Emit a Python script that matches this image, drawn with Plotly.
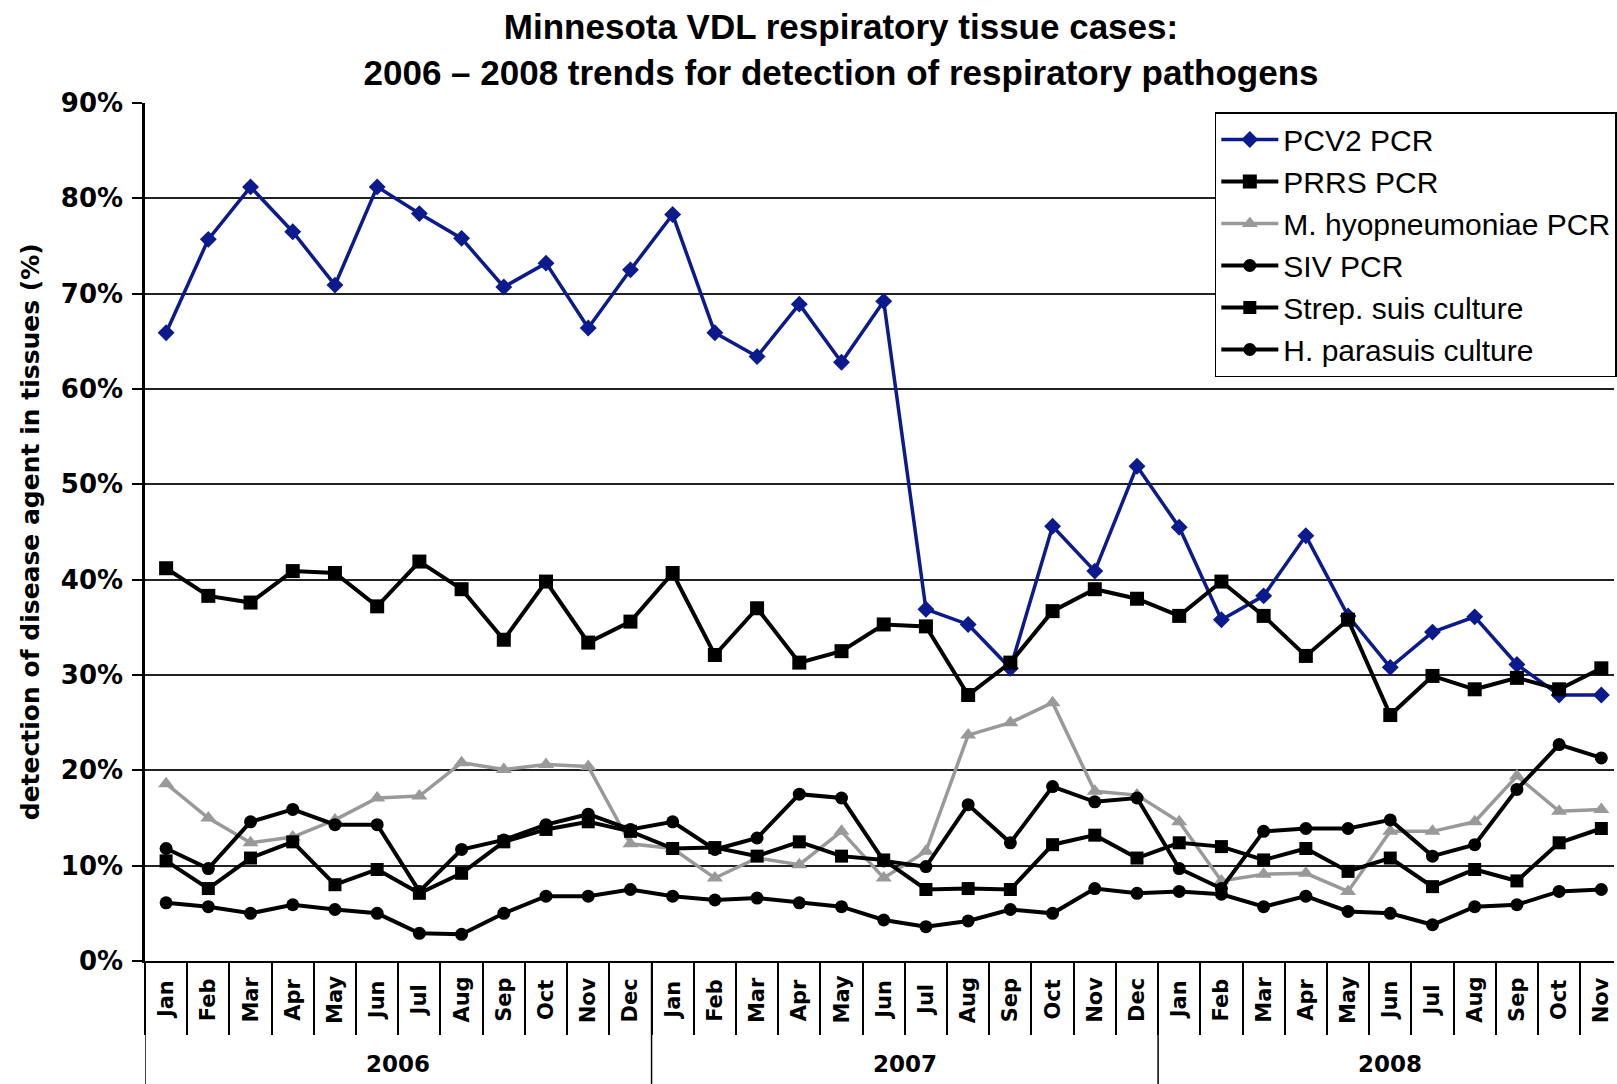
import plotly.graph_objects as go

# ---- data ----
months = ['Jan', 'Feb', 'Mar', 'Apr', 'May', 'Jun', 'Jul', 'Aug', 'Sep', 'Oct', 'Nov', 'Dec',
          'Jan', 'Feb', 'Mar', 'Apr', 'May', 'Jun', 'Jul', 'Aug', 'Sep', 'Oct', 'Nov', 'Dec',
          'Jan', 'Feb', 'Mar', 'Apr', 'May', 'Jun', 'Jul', 'Aug', 'Sep', 'Oct', 'Nov']
years = ['2006', '2007', '2008']
year_counts = [12, 12, 11]

pcv2 = [65.9, 75.7, 81.2, 76.5, 70.9, 81.2, 78.4, 75.8, 70.7, 73.2, 66.4, 72.5,
        78.3, 65.9, 63.4, 68.9, 62.8, 69.2, 36.9, 35.3, 30.7, 45.6, 40.9, 51.9,
        45.5, 35.8, 38.3, 44.6, 36.2, 30.8, 34.5, 36.1, 31.1, 27.9, 27.9]
prrs = [41.2, 38.3, 37.6, 40.9, 40.7, 37.2, 41.9, 39.0, 33.7, 39.8, 33.4, 35.6,
        40.7, 32.1, 37.0, 31.3, 32.5, 35.3, 35.1, 27.9, 31.3, 36.7, 39.0, 38.0,
        36.2, 39.8, 36.2, 32.0, 35.8, 25.8, 29.9, 28.5, 29.7, 28.5, 30.7]
mhyo = [18.6, 15.0, 12.4, 13.0, 14.8, 17.1, 17.3, 20.8, 20.1, 20.6, 20.4, 12.3,
        11.8, 8.7, 10.8, 10.1, 13.6, 8.7, 11.5, 23.7, 25.0, 27.1, 17.8, 17.4,
        14.6, 8.4, 9.1, 9.2, 7.3, 13.6, 13.6, 14.6, 19.4, 15.7, 15.9]
siv = [11.8, 9.7, 14.6, 15.9, 14.3, 14.3, 7.3, 11.7, 12.7, 14.3, 15.4, 13.8,
       14.6, 11.7, 12.9, 17.5, 17.1, 10.5, 9.9, 16.4, 12.4, 18.3, 16.7, 17.1,
       9.7, 7.6, 13.6, 13.9, 13.9, 14.8, 11.0, 12.2, 18.0, 22.7, 21.3]
strep = [10.5, 7.6, 10.8, 12.5, 8.0, 9.6, 7.1, 9.2, 12.5, 13.8, 14.6, 13.6,
         11.8, 11.9, 11.0, 12.5, 11.0, 10.6, 7.5, 7.6, 7.5, 12.2, 13.2, 10.8,
         12.4, 12.0, 10.6, 11.8, 9.4, 10.8, 7.8, 9.6, 8.4, 12.4, 13.9]
hpar = [6.1, 5.7, 5.0, 5.9, 5.4, 5.0, 2.9, 2.8, 5.0, 6.8, 6.8, 7.5,
        6.8, 6.4, 6.6, 6.1, 5.7, 4.3, 3.6, 4.2, 5.4, 5.0, 7.6, 7.1,
        7.3, 7.0, 5.7, 6.8, 5.2, 5.0, 3.8, 5.7, 5.9, 7.3, 7.5]

y_ticks = [0, 10, 20, 30, 40, 50, 60, 70, 80, 90]

series = [
    ('PCV2 PCR', pcv2, '#0B1A8C', 'diamond', 13, 3.5),
    ('PRRS PCR', prrs, '#000000', 'square', 14, 4),
    ('M. hyopneumoniae PCR', mhyo, '#999999', 'triangle-up', 14, 3.5),
    ('SIV PCR', siv, '#000000', 'circle', 13, 4),
    ('Strep. suis culture', strep, '#000000', 'square', 13, 4),
    ('H. parasuis culture', hpar, '#000000', 'circle', 13, 4),
]

W, H = 1617, 1084
L, R, T, B = 145, 0, 103, 123
plot_h = H - T - B
plot_w = W - L - R

x = list(range(len(months)))
fig = go.Figure()
for name, vals, color, sym, size, lw in series:
    fig.add_trace(go.Scatter(
        x=x, y=vals, name=name, mode='lines+markers', legendgroup=name,
        line=dict(color=color, width=lw),
        marker=dict(symbol=sym, size=size, color=color, line=dict(width=0)),
    ))

shapes = []
annotations = []

# month labels (centred in the label band, like the original)
month_font = dict(family='DejaVu Sans', size=21, color='black', weight='bold')
for i, m in enumerate(months):
    annotations.append(dict(text=m, xref='x', yref='paper', x=i, y=-(1000 - (H - B)) / plot_h,
                            textangle=-90, xanchor='center', yanchor='middle', showarrow=False,
                            font=month_font))

# year separators and labels
start = 0
bottom_paper = -B / plot_h
for yr, cnt in zip(years, year_counts):
    shapes.append(dict(type='line', xref='x', yref='paper', x0=start - 0.5, x1=start - 0.5,
                       y0=0, y1=bottom_paper, line=dict(color='black', width=1.5)))
    annotations.append(dict(text=yr, xref='x', yref='paper', x=start + (cnt - 1) / 2,
                            y=-(1064 - (H - B)) / plot_h, yanchor='middle', showarrow=False,
                            font=dict(family='DejaVu Sans', size=23, color='black', weight='bold')))
    start += cnt

annotations.append(dict(text='detection of disease agent in tissues (%)', xref='paper', yref='paper',
                        x=(30 - L) / plot_w, y=0.5, textangle=-90, showarrow=False,
                        xanchor='center', yanchor='middle',
                        font=dict(family='DejaVu Sans', size=25, color='black', weight='bold')))

fig.update_layout(
    width=W, height=H,
    margin=dict(l=L, r=R, t=T, b=B),
    paper_bgcolor='white', plot_bgcolor='white',
    title=dict(text='Minnesota VDL respiratory tissue cases:<br>2006 \u2013 2008 trends for detection of respiratory pathogens',
               x=841 / W, xanchor='center', y=1 - 39 / H, yanchor='middle',
               font=dict(family='Liberation Sans, Arial', size=35, color='black', weight='bold')),
    xaxis=dict(range=[-0.5, 34.3], tickmode='array', tickvals=x, ticktext=months,
               showticklabels=False, ticks='', showgrid=False, zeroline=False,
               showline=True, linecolor='black', linewidth=2,
               minor=dict(tickmode='array', tickvals=[i - 0.5 for i in range(len(months) + 1)],
                          ticks='outside', ticklen=72, tickcolor='black', tickwidth=1.5, showgrid=False)),
    yaxis=dict(range=[0, 90], tickmode='array', tickvals=y_ticks, ticktext=[f'{v}%' for v in y_ticks],
               ticks='outside', ticklen=10, tickwidth=1.5, tickcolor='black',
               showline=True, linecolor='black', linewidth=2.5, zeroline=False,
               showgrid=True, gridcolor='#222222', gridwidth=1.6,
               ticklabelstandoff=4,
               tickfont=dict(family='DejaVu Sans', size=26, color='black', weight='bold')),
    legend=dict(x=(1217 - L) / plot_w, y=(H - B - 112) / plot_h, xanchor='left', yanchor='top',
                bordercolor='black', borderwidth=1.5, bgcolor='white',
                font=dict(family='Liberation Sans, Arial', size=30, color='black'),
                itemwidth=57, tracegroupgap=0),
    shapes=shapes, annotations=annotations,
    showlegend=True,
)

fig.write_html('out.html', config={'displayModeBar': False},
               post_script="document.body.style.margin='0';")
